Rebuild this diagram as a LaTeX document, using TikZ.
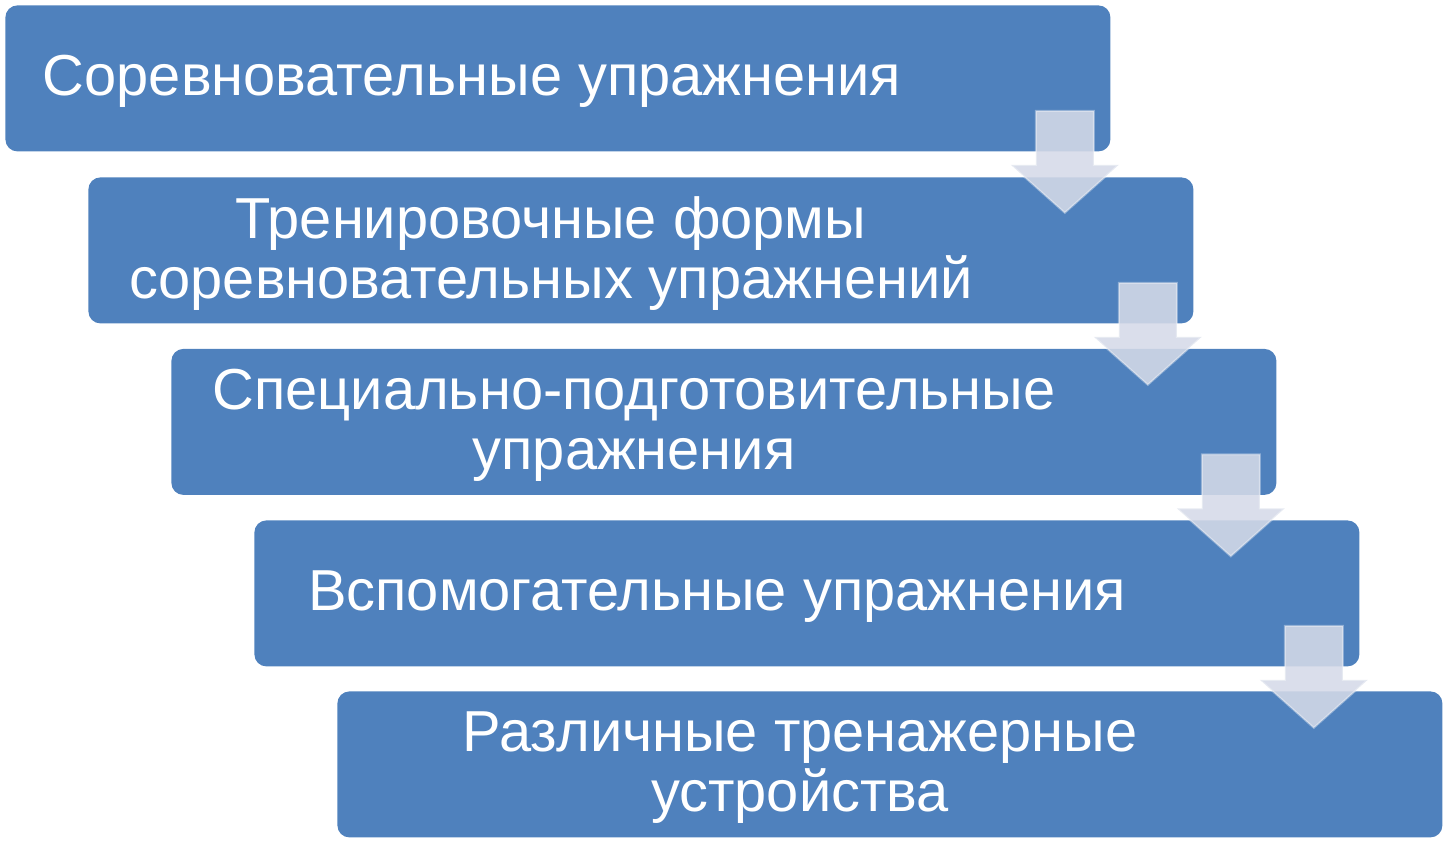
\documentclass[tikz,border=0pt]{standalone}
\usepackage{fontspec}
\setmainfont{Liberation Sans}
\usetikzlibrary{calc}
\definecolor{boxblue}{HTML}{4F81BD}
\definecolor{arrowfill}{RGB}{213,218,232}
\begin{document}
\begin{tikzpicture}[x=0.5pt,y=-0.5pt,
  stepbox/.style={fill=boxblue, rounded corners=6pt, minimum width=552.5pt, minimum height=73pt, inner sep=0pt, anchor=north west},
  steptext/.style={text=white, font=\fontsize{28.9}{30}\selectfont, align=center, inner sep=0pt},
  downarrow/.style={fill=arrowfill, fill opacity=0.88, draw=white, draw opacity=0.35, line width=1pt}]
\useasboundingbox (0,0) rectangle (1448,843);
\node[stepbox] (b1) at (5,5) {};
\node[stepbox] (b2) at (88,177) {};
\node[stepbox] (b3) at (171,348.5) {};
\node[stepbox] (b4) at (254,520) {};
\node[stepbox] (b5) at (337,691) {};
\node[steptext] (t1) at ($(b1.west)+(467,3)$) {Соревновательные упражнения};
\node[steptext] (t2) at ($(b2.west)+(463,3)$) {Тренировочные формы\\соревновательных упражнений};
\node[steptext] (t3) at ($(b3.west)+(463,3)$) {Специально-подготовительные\\упражнения};
\node[steptext] (t4) at ($(b4.west)+(463,3)$) {Вспомогательные упражнения};
\node[steptext] (t5) at ($(b5.west)+(463,3)$) {Различные тренажерные\\устройства};
\foreach \i in {1,2,3,4}{
  \draw[downarrow] ($(b\i.south east)+(-75,-41)$) -- ($(b\i.south east)+(-17,-41)$) -- ($(b\i.south east)+(-17,13)$) -- ($(b\i.south east)+(8,13)$) -- ($(b\i.south east)+(-46,61)$) -- ($(b\i.south east)+(-100,13)$) -- ($(b\i.south east)+(-75,13)$) -- cycle;
}
\end{tikzpicture}
\end{document}
